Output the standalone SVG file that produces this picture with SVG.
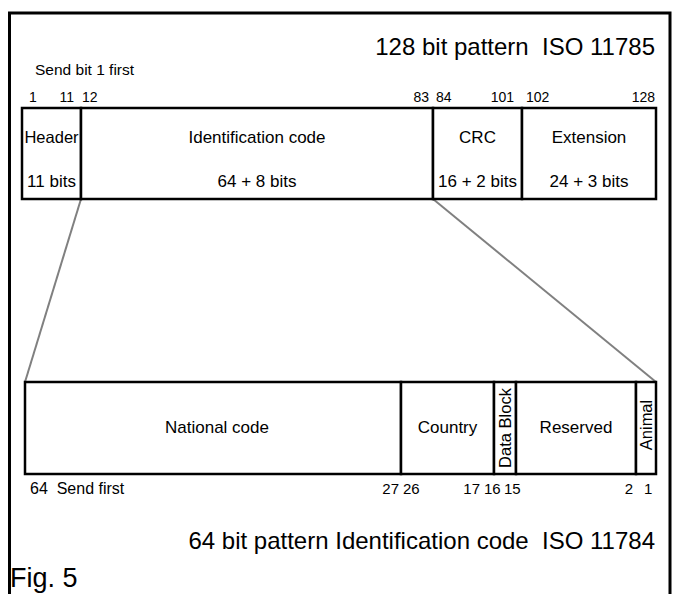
<svg xmlns="http://www.w3.org/2000/svg" width="682" height="594" viewBox="0 0 682 594" xml:space="preserve">
<style>
text{font-family:"Liberation Sans",Arial,sans-serif;fill:#000;white-space:pre}
.s{font-size:14px}
.m{font-size:15px}
.l{font-size:17px}
.r{font-size:16.5px}
.b{font-size:24px}
.box{fill:#fff;stroke:#000;stroke-width:2.5}
.con{stroke:#808080;stroke-width:2;fill:none}
</style>
<rect width="682" height="594" fill="#fff"/>
<path d="M9.5,594 V13 H670 V594" fill="none" stroke="#000" stroke-width="3"/>
<text class="b" x="655" y="55" text-anchor="end">128 bit pattern  ISO 11785</text>
<text x="35" y="75" style="font-size:15.5px">Send bit 1 first</text>
<g id="top-numbers" class="s">
<text x="29" y="102">1</text>
<text x="74" y="102" text-anchor="end">11</text>
<text x="82" y="102">12</text>
<text x="429" y="102" text-anchor="end">83</text>
<text x="436" y="102">84</text>
<text x="514" y="102" text-anchor="end">101</text>
<text x="526" y="102">102</text>
<text x="655" y="102" text-anchor="end">128</text>
</g>
<g id="connectors">
<line class="con" x1="81" y1="199" x2="25" y2="382"/>
<line class="con" x1="433" y1="199" x2="656" y2="382"/>
</g>
<g id="header">
<rect class="box" x="22" y="108" width="59" height="91"/>
<text x="51.5" y="143" text-anchor="middle" style="font-size:16.5px">Header</text>
<text class="l" x="51.5" y="187" text-anchor="middle">11 bits</text>
</g>
<g id="identification">
<rect class="box" x="81" y="108" width="352" height="91"/>
<text class="l" x="257" y="143" text-anchor="middle">Identification code</text>
<text class="l" x="257" y="187" text-anchor="middle">64 + 8 bits</text>
</g>
<g id="crc">
<rect class="box" x="433" y="108" width="89" height="91"/>
<text class="l" x="477.5" y="143" text-anchor="middle">CRC</text>
<text class="l" x="477.5" y="187" text-anchor="middle">16 + 2 bits</text>
</g>
<g id="extension">
<rect class="box" x="522" y="108" width="134" height="91"/>
<text class="l" x="589" y="143" text-anchor="middle">Extension</text>
<text class="l" x="589" y="187" text-anchor="middle">24 + 3 bits</text>
</g>
<g id="national">
<rect class="box" x="25" y="382" width="376" height="92"/>
<text class="l" x="217" y="433" text-anchor="middle">National code</text>
</g>
<g id="country">
<rect class="box" x="401" y="382" width="93" height="92"/>
<text class="l" x="447.5" y="433" text-anchor="middle">Country</text>
</g>
<g id="datablock">
<rect class="box" x="494" y="382" width="22" height="92"/>
<text class="r" transform="translate(511,428) rotate(-90)" text-anchor="middle">Data Block</text>
</g>
<g id="reserved">
<rect class="box" x="516" y="382" width="120" height="92"/>
<text class="l" x="576" y="433" text-anchor="middle">Reserved</text>
</g>
<g id="animal">
<rect class="box" x="636" y="382" width="20" height="92"/>
<text class="r" transform="translate(652,425) rotate(-90)" text-anchor="middle">Animal</text>
</g>
<g id="bottom-numbers" class="m">
<text x="30" y="494" style="font-size:16px">64  Send first</text>
<text x="399" y="494" text-anchor="end">27</text>
<text x="403" y="494">26</text>
<text x="480" y="494" text-anchor="end">17</text>
<text x="484" y="494">16</text>
<text x="504" y="494">15</text>
<text x="633" y="494" text-anchor="end">2</text>
<text x="644" y="494">1</text>
</g>
<text class="b" x="655" y="549" text-anchor="end">64 bit pattern Identification code  ISO 11784</text>
<text x="10" y="587" style="font-size:27px">Fig. 5</text>
</svg>
